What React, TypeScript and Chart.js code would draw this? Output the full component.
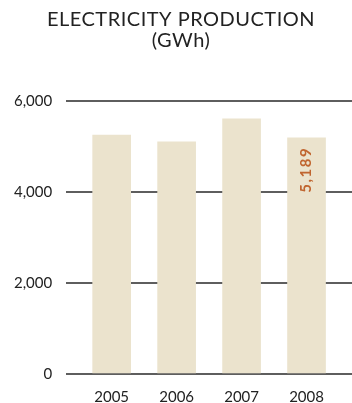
import React, { useEffect, useRef } from "react";
import { Chart, registerables } from "chart.js";

Chart.register(...registerables);

const titleLines = ["ELECTRICITY PRODUCTION", "(GWh)"];
const years = [2005, 2006, 2007, 2008];
const production = [5250, 5100, 5610, 5189];
const yTicks = [0, 2000, 4000, 6000];
const highlightIndex = 3;
const highlightLabel = "5,189";

const FONT = "Lato";

export default function App() {
  const ref = useRef<HTMLCanvasElement>(null);
  useEffect(() => {
    document.body.style.margin = "0";
    const canvas = ref.current;
    if (!canvas) return;
    const overlay = {
      id: "overlay",
      afterDraw(chart: any) {
        const ctx = chart.ctx;
        ctx.save();
        ctx.fillStyle = "#222222";
        ctx.font = `20px ${FONT}`;
        (ctx as any).letterSpacing = "0.5px";
        ctx.textAlign = "center";
        ctx.textBaseline = "alphabetic";
        ctx.fillText(titleLines[0], 181, 26);
        ctx.fillText(titleLines[1], 181, 47);
        ctx.restore();

        const meta = chart.getDatasetMeta(0);
        const el = meta.data[highlightIndex];
        if (el) {
          ctx.save();
          ctx.translate(el.x, el.y + 9);
          ctx.rotate(-Math.PI / 2);
          ctx.textAlign = "right";
          ctx.textBaseline = "middle";
          ctx.font = `bold 15px ${FONT}`;
          (ctx as any).letterSpacing = "1.5px";
          ctx.fillStyle = "#c0652f";
          ctx.fillText(highlightLabel, 0, 0);
          ctx.restore();
        }
      },
    };
    const chart = new Chart(canvas, {
      type: "bar",
      data: {
        datasets: [
          {
            data: years.map((y, i) => ({ x: y, y: production[i] })),
            backgroundColor: "#ebe3cd",
            barThickness: 38,
          },
        ],
      },
      options: {
        responsive: false,
        animation: false,
        layout: { padding: { left: 0, right: 0, top: 101, bottom: 0 } },
        plugins: {
          legend: { display: false },
          tooltip: { enabled: false },
          title: { display: false },
        },
        scales: {
          x: {
            type: "linear",
            offset: false,
            min: 2004.3,
            max: 2008.7,
            grid: { display: false, offset: false, drawTicks: false },
            border: { display: false },
            afterBuildTicks: (axis: any) => {
              axis.ticks = years.map((v) => ({ value: v }));
            },
            afterFit: (axis: any) => {
              axis.height = 29;
            },
            ticks: {
              padding: 14,
              maxRotation: 0,
              minRotation: 0,
              autoSkip: false,
              color: "#222222",
              font: { family: FONT, size: 15 },
              callback: (v: any) => String(v),
            },
          },
          y: {
            min: 0,
            max: 6000,
            afterBuildTicks: (axis: any) => {
              axis.ticks = yTicks.map((v) => ({ value: v }));
            },
            grid: {
              color: "#5e5e5e",
              lineWidth: 2,
              drawTicks: false,
            },
            border: { display: false },
            ticks: {
              padding: 14,
              color: "#222222",
              font: { family: FONT, size: 15 },
              callback: (v: any) => Number(v).toLocaleString("en-US"),
            },
          },
        },
      },
      plugins: [overlay],
    });
    return () => chart.destroy();
  }, []);
  return (
    <div style={{ width: 352, height: 403 }}>
      <canvas ref={ref} width={352} height={403} />
    </div>
  );
}
